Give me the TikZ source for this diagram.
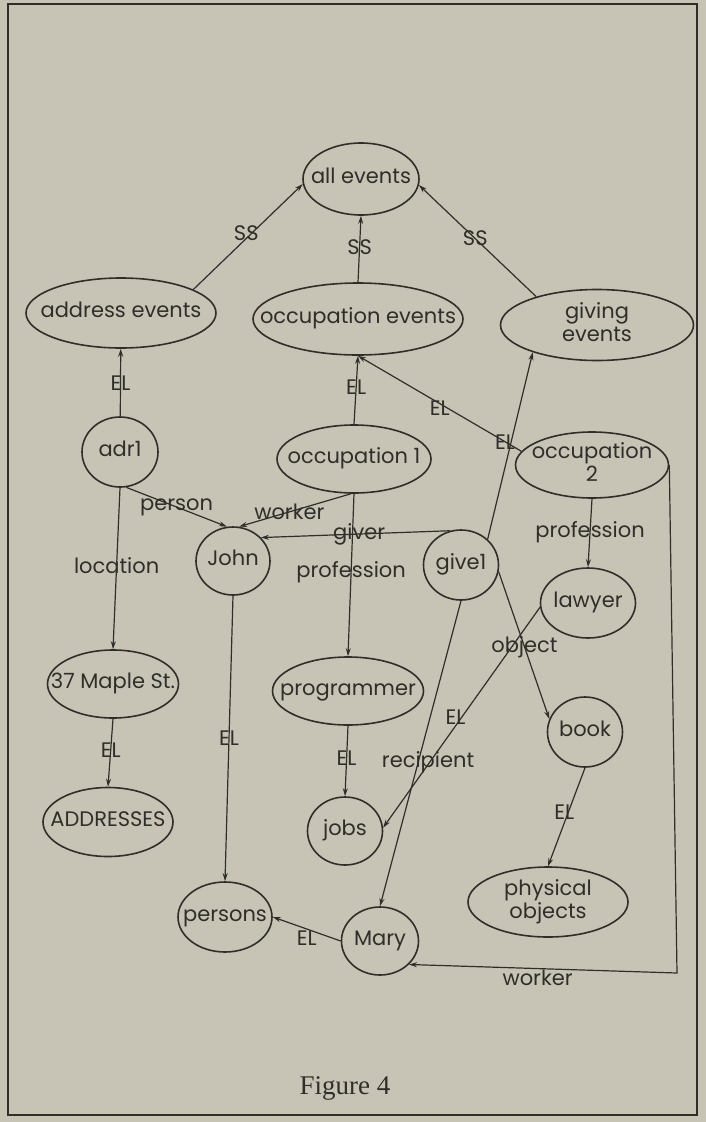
\documentclass[tikz,border=0pt]{standalone}
\usepackage{fontspec}
\setmainfont{Poppins}
\newfontfamily\capfont{Liberation Serif}
\usetikzlibrary{shapes.geometric,arrows.meta}
\definecolor{paper}{RGB}{200,196,181}
\definecolor{ink}{RGB}{48,46,42}
\newcommand{\ovl}[1]{\makebox[0pt]{\begin{tabular}{@{}c@{}}#1\end{tabular}}}
\tikzset{
	concept/.style={draw=ink, ellipse, inner sep=0pt, line width=1.6pt},
	rel/.style={draw=ink, line width=1.2pt, -{Stealth[length=8pt,width=5pt]}},
	tag/.style={text=ink, inner sep=1pt},
}
\begin{document}
\begin{tikzpicture}[x=1pt,y=-1pt, font=\fontsize{21}{23}\selectfont, text=ink]
	\fill[paper] (0,0) rectangle (706,1122);
	\useasboundingbox (0,0) rectangle (706,1122);
	\draw[ink, line width=1.6pt] (8,4) rectangle (697,1115);
	% classes of events
	\node[concept, minimum width=116pt, minimum height=72pt] (allev) at (361,179) {\ovl{all events}};
	\node[concept, minimum width=190pt, minimum height=70pt] (addrev) at (121,313) {\ovl{address events}};
	\node[concept, minimum width=210pt, minimum height=72pt] (occev) at (358,319) {\ovl{occupation events}};
	\node[concept, minimum width=193pt, minimum height=71pt] (givev) at (597,325) {\ovl{giving\\events}};
	% single events and entities
	\node[concept, minimum width=76pt, minimum height=70pt] (adr1) at (120,452) {\ovl{adr1}};
	\node[concept, minimum width=154pt, minimum height=68pt] (occ1) at (354,459) {\ovl{occupation 1}};
	\node[concept, minimum width=153pt, minimum height=66pt] (occ2) at (592,465) {\ovl{occupation\\2}};
	\node[concept, minimum width=74pt, minimum height=68pt] (john) at (233,561) {\ovl{John}};
	\node[concept, minimum width=75pt, minimum height=70pt] (give1) at (461,565) {\ovl{give1}};
	\node[concept, minimum width=95pt, minimum height=70pt] (lawyer) at (588,603) {\ovl{lawyer}};
	\node[concept, minimum width=131pt, minimum height=68pt] (maple) at (113,684) {\ovl{37 Maple St.}};
	\node[concept, minimum width=151pt, minimum height=68pt] (prog) at (348,691) {\ovl{programmer}};
	\node[concept, minimum width=75pt, minimum height=70pt] (book) at (585,732) {\ovl{book}};
	\node[concept, minimum width=130pt, minimum height=69pt] (addr) at (108,822) {\ovl{ADDRESSES}};
	\node[concept, minimum width=75pt, minimum height=68pt] (jobs) at (345,831) {\ovl{jobs}};
	\node[concept, minimum width=160pt, minimum height=70pt] (phys) at (548,902) {\ovl{physical\\objects}};
	\node[concept, minimum width=94pt, minimum height=70pt] (persons) at (225,917) {\ovl{persons}};
	\node[concept, minimum width=77pt, minimum height=68pt] (mary) at (380,941) {\ovl{Mary}};
	\coordinate (wcorner) at (677,973);
	% links
	\draw[rel] (addrev.18) -- node[tag, pos=0.53, xshift=-5pt] {SS} (allev.185);
	\draw[rel] (occev.north) -- node[tag, pos=0.53] {SS} (allev.south);
	\draw[rel] (givev.155) -- node[tag, pos=0.52] {SS} (allev.-6);
	\draw[rel] (adr1) -- node[tag, pos=0.49] {EL} (addrev);
	\draw[rel] (occ1.north) -- node[tag, pos=0.54] {EL} (occev.south);
	\draw[rel] (occ2.169) -- node[tag, pos=0.5, yshift=-5pt] {EL} (occev.south);
	\draw[rel] (give1.44) -- node[tag, pos=0.52, xshift=-6pt] {EL} (givev.203);
	\draw[rel] (adr1.-80) -- node[tag, pos=0.5] {person} (john.100);
	\draw[rel] (occ1.265) -- node[tag, pos=0.55] {worker} (john.80);
	\draw[rel] (give1.108) -- node[tag, pos=0.48] {giver} (john.40);
	\draw[rel] (adr1.south) -- node[tag, pos=0.48] {location} (maple.north);
	\draw[rel] (occ1.south) -- node[tag, pos=0.48] {profession} (prog.north);
	\draw[rel] (occ2.south) -- node[tag, pos=0.49] {profession} (lawyer.north);
	\draw[rel] (john.south) -- node[tag, pos=0.5] {EL} (persons.north);
	\draw[rel] (mary.west) -- node[tag, pos=0.5, below] {EL} (persons.east);
	\draw[rel] (maple.south) -- node[tag, pos=0.46] {EL} (addr.north);
	\draw[rel] (prog.south) -- node[tag, pos=0.46] {EL} (jobs.north);
	\draw[rel] (lawyer.185) -- node[tag, pos=0.5, xshift=-6pt] {EL} (jobs.5);
	\draw[rel] (give1.south) -- node[tag, pos=0.53, xshift=10pt] {recipient} (mary.north);
	\draw[rel] (give1.-10) -- node[tag, pos=0.51] {object} (book.160);
	\draw[rel] (book.south) -- node[tag, pos=0.45, xshift=-4pt] {EL} (phys.north);
	\draw[rel] (occ2.east) -- (wcorner) -- node[tag, pos=0.52, below] {worker} (mary.-39);
	% caption
	\node[font=\capfont\fontsize{27}{30}\selectfont] (cap) at (345,1088) {Figure 4};
\end{tikzpicture}
\end{document}
